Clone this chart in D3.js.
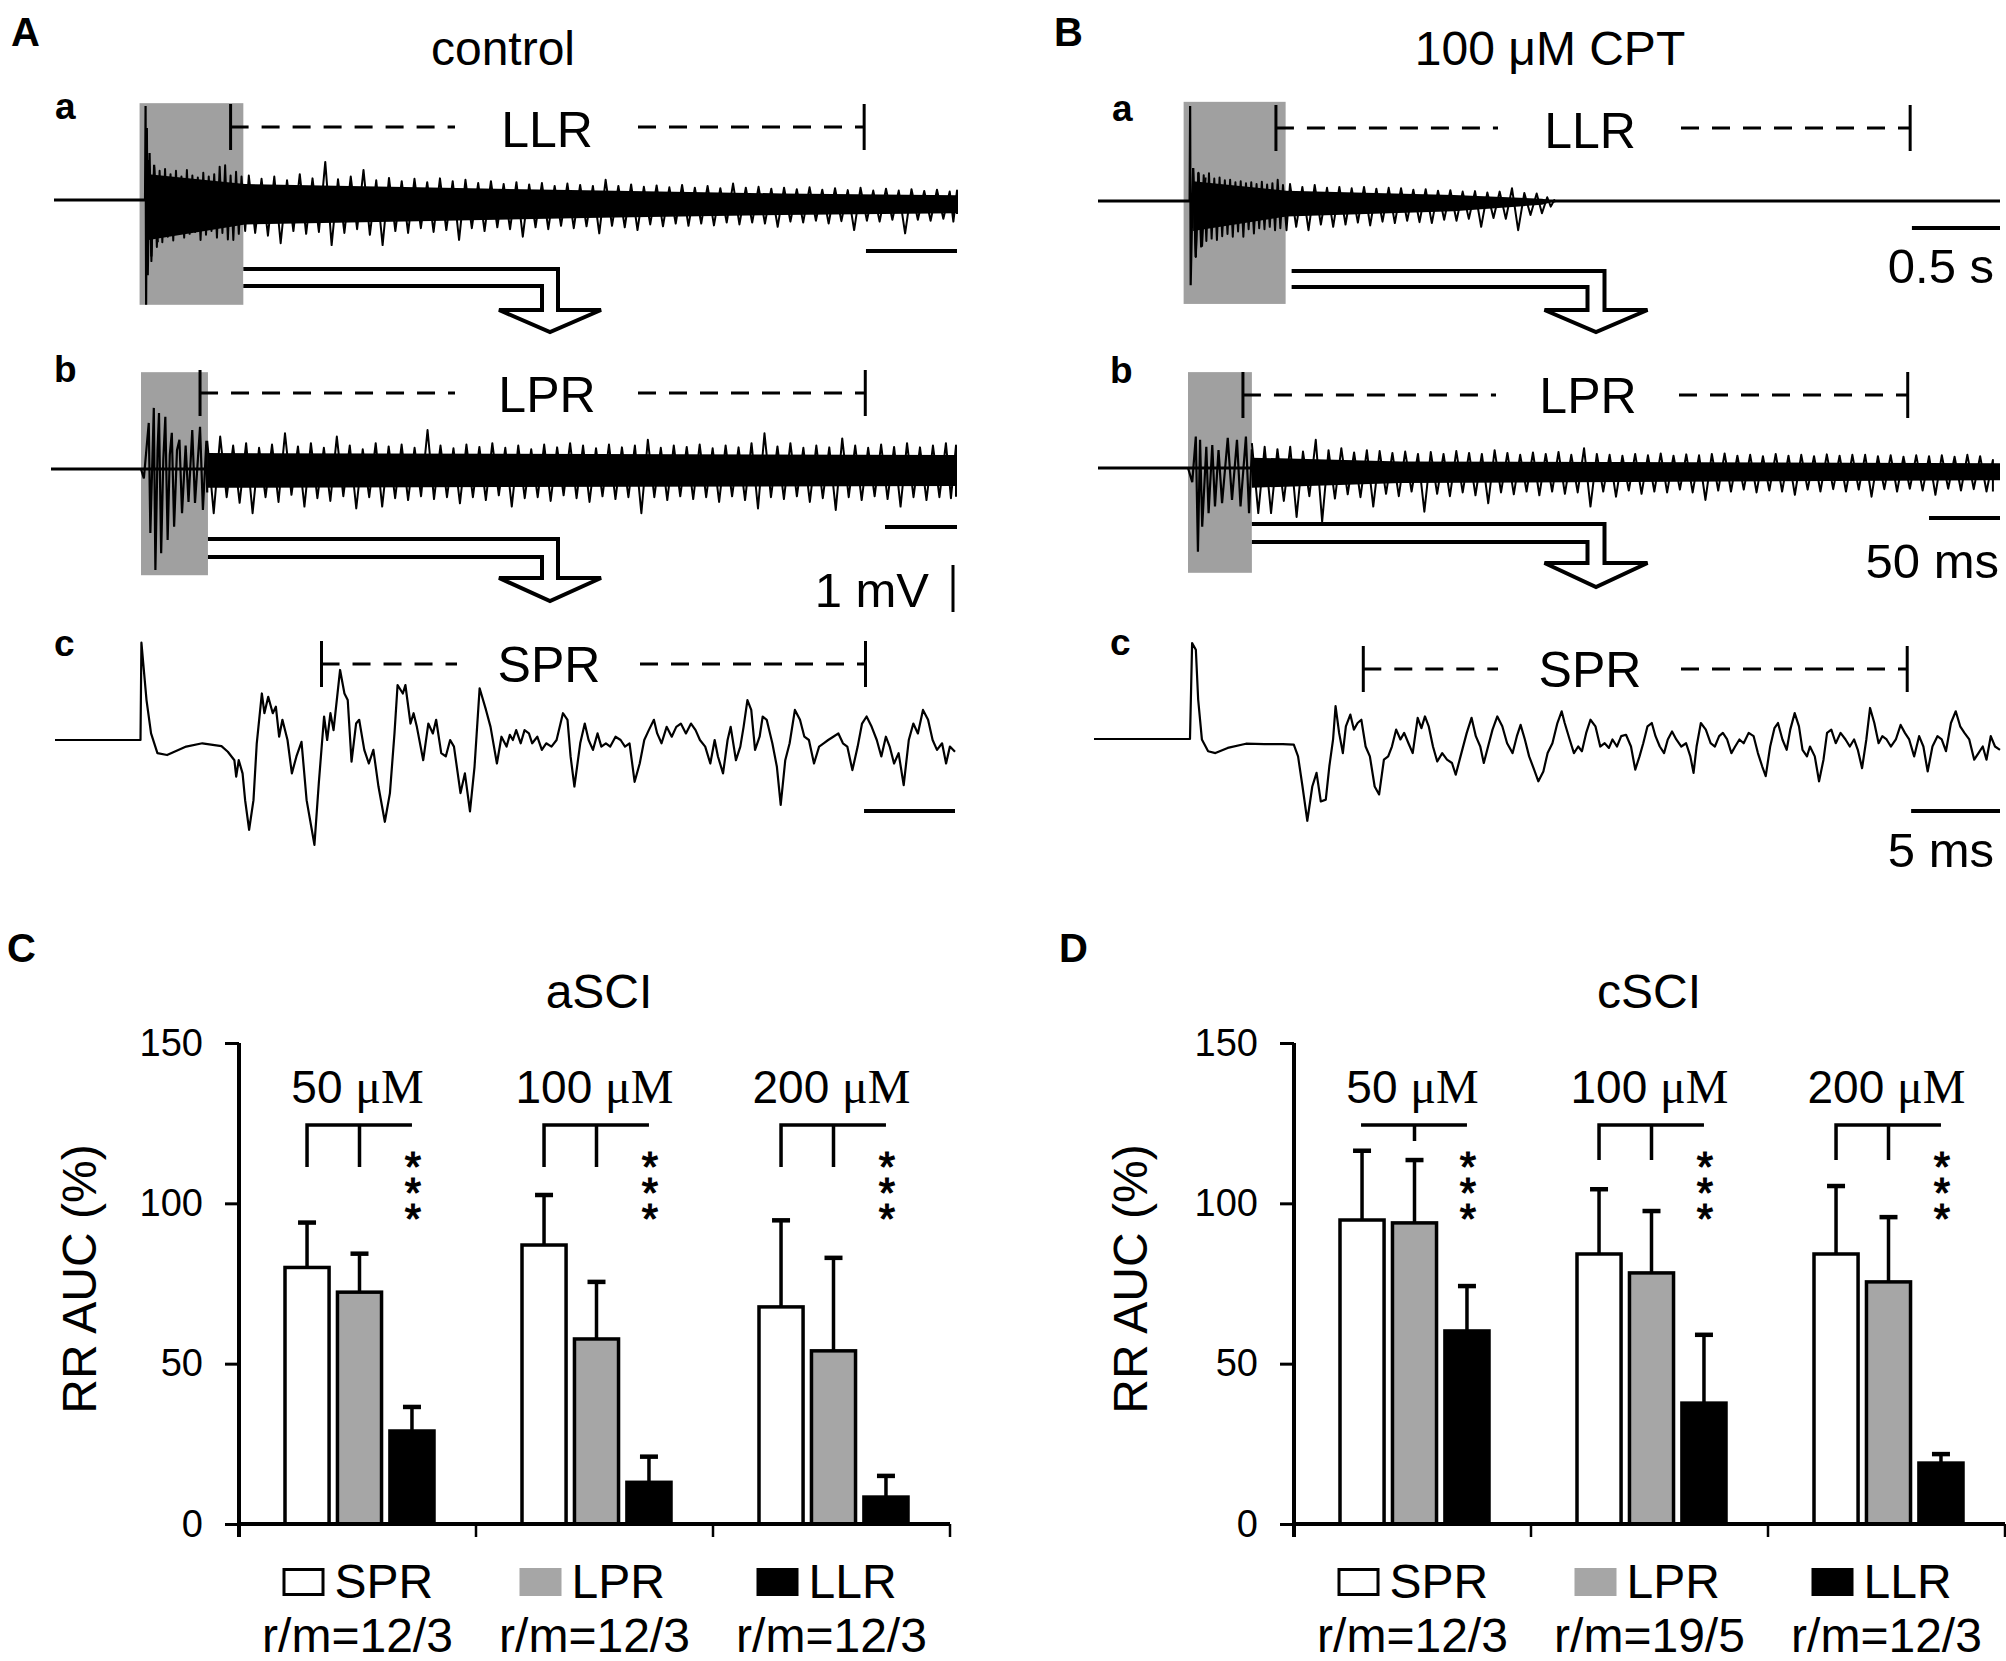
<!DOCTYPE html>
<html><head><meta charset="utf-8">
<script src="https://cdn.jsdelivr.net/npm/d3@7"></script>
<style>
html,body{margin:0;padding:0;background:#fff;}
svg{display:block;}
text{font-family:"Liberation Sans",Arial,sans-serif;fill:#000;}
</style></head><body>
<svg id="fig" width="2006" height="1661"></svg>
<script>
// ================= DATA =================
// bar charts (RR AUC, % of control)
const doses = ["50", "100", "200"];
const doseUnit = "μM";
const responses = ["SPR", "LPR", "LLR"];
const yTicks = [0, 50, 100, 150];
const aSciSPR = [80, 87, 67.7];
const aSciLPR = [72.3, 57.7, 54];
const aSciLLR = [29, 13, 8.4];
const aSciSPRsem = [14, 15.6, 27];
const aSciLPRsem = [12, 17.8, 29];
const aSciLLRsem = [7.5, 8, 6.6];
const aSciRM = ["r/m=12/3", "r/m=12/3", "r/m=12/3"];
const aSciBracket = ["fork", "fork", "fork"];
const cSciSPR = [94.8, 84.2, 84.2];
const cSciLPR = [93.9, 78.3, 75.5];
const cSciLLR = [60.2, 37.7, 19];
const cSciSPRsem = [21.6, 20.2, 21.2];
const cSciLPRsem = [19.6, 19.3, 20.2];
const cSciLLRsem = [14, 21.3, 2.8];
const cSciRM = ["r/m=12/3", "r/m=19/5", "r/m=12/3"];
const cSciBracket = ["tee", "fork", "fork"];
const signif = "***";

// recordings: time (s or ms), voltage (mV); noisy traces given as [t, max, min] per time bin
// control, trace a (LLR, s)
const ctrlA_dom = [-0.5, 4.46];
const ctrlA_win = [-0.03, 0.54, 2.06, -2.23];
const ctrlA_resp = [0.47, 3.95];
const ctrlA_burst = [[0,0],[0.003,2.0],[0.006,-2.23],[0.01,1.53],[0.015,-1.6],[0.025,1.0],[0.035,-1.2],[0.05,0.75],[0.07,-0.9]];
const ctrlA_core = [[0.02,0.55,-0.85],[0.55,0.34,-0.52],[1.5,0.27,-0.45],[2.5,0.2,-0.38],[3.5,0.14,-0.32],[4.46,0.1,-0.28]];
const ctrlA_bins = [[0.02,0.85,-1.3],[0.05,0.7,-1.0],[0.08,0.62,-0.9],[0.11,0.66,-0.78],[0.14,0.55,-0.86],[0.17,0.62,-0.7],[0.2,0.5,-0.8],[0.23,0.64,-0.72],[0.26,0.52,-0.68],[0.29,0.48,-0.85],[0.32,0.58,-0.74],[0.35,0.5,-0.66],[0.38,0.55,-0.8],[0.41,0.71,-0.7],[0.44,0.74,-0.84],[0.47,0.52,-0.85],[0.5,0.6,-0.72],[0.53,0.5,-0.66],
  [0.57,0.52,-0.7],[0.64,0.45,-0.76],[0.71,0.5,-0.92],[0.78,0.42,-0.66],[0.85,0.55,-0.72],[0.92,0.46,-0.68],[0.99,0.81,-0.96],[1.06,0.44,-0.7],[1.13,0.5,-0.62],[1.20,0.64,-0.74],[1.27,0.42,-0.96],[1.34,0.47,-0.66],[1.41,0.4,-0.7],[1.48,0.45,-0.6],[1.55,0.38,-0.68],[1.62,0.46,-0.64],[1.69,0.4,-0.85],[1.76,0.43,-0.6],[1.83,0.36,-0.66],[1.90,0.4,-0.58],[1.97,0.34,-0.62],[2.04,0.38,-0.78],[2.11,0.33,-0.58],[2.18,0.36,-0.62],[2.25,0.3,-0.55],[2.32,0.35,-0.6],[2.39,0.32,-0.56],[2.46,0.3,-0.71],[2.53,0.43,-0.55],[2.60,0.3,-0.58],[2.67,0.33,-0.64],[2.74,0.28,-0.52],[2.81,0.31,-0.56],[2.88,0.27,-0.5],[2.95,0.32,-0.55],[3.02,0.26,-0.5],[3.09,0.3,-0.54],[3.16,0.25,-0.48],[3.23,0.35,-0.52],[3.30,0.26,-0.48],[3.37,0.28,-0.5],[3.44,0.24,-0.57],[3.51,0.26,-0.46],[3.58,0.23,-0.48],[3.65,0.27,-0.44],[3.72,0.22,-0.5],[3.79,0.25,-0.45],[3.86,0.21,-0.64],[3.93,0.26,-0.44],[4.00,0.2,-0.46],[4.07,0.24,-0.42],[4.14,0.2,-0.71],[4.21,0.23,-0.42],[4.28,0.19,-0.44],[4.35,0.22,-0.4],[4.42,0.18,-0.46],[4.46,0.2,-0.3]];
// control, trace b (LPR, ms)
const ctrlB_dom = [-62.5, 566.7];
const ctrlB_win = [0, 46.5, 2.06, -2.26];
const ctrlB_resp = [41, 503];
const ctrlB_burst = [[0,0],[2,-0.2],[4,0.5],[5.4,0.98],[6.5,-1.36],[8,0.3],[8.9,1.3],[10,-2.15],[11.5,0.4],[12.5,1.19],[14,-1.79],[15.5,0.2],[16.9,1.11],[18.5,-1.51],[20,0.3],[21.4,0.77],[23,-1.23],[25,0.4],[26.7,0.62],[28.5,-0.94],[31,0.5],[33,-0.7],[35.6,0.83],[37.5,-0.72],[41,0.9],[43,-0.87],[45.4,0.6],[46,-0.5]];
const ctrlB_core = [[46,0.34,-0.4],[566.7,0.3,-0.36]];
const ctrlB_bins = [[46,0.6,-0.94],[55,0.69,-0.6],[64,0.5,-0.72],[73,0.55,-0.94],[82,0.45,-0.6],[91,0.52,-0.7],[100,0.76,-0.55],[109,0.48,-0.8],[118,0.55,-0.62],[127,0.45,-0.68],[136,0.69,-0.58],[145,0.5,-0.84],[154,0.42,-0.6],[163,0.55,-0.8],[172,0.48,-0.62],[181,0.52,-0.66],[190,0.45,-0.58],[199,0.83,-0.64],[208,0.5,-0.6],[217,0.44,-0.73],[226,0.52,-0.6],[235,0.47,-0.66],[244,0.55,-0.56],[253,0.45,-0.8],[262,0.5,-0.62],[271,0.42,-0.6],[280,0.52,-0.68],[289,0.46,-0.56],[298,0.55,-0.62],[307,0.5,-0.7],[316,0.44,-0.58],[325,0.52,-0.64],[334,0.46,-0.6],[343,0.5,-0.94],[352,0.62,-0.6],[361,0.45,-0.66],[370,0.5,-0.58],[379,0.47,-0.64],[388,0.52,-0.6],[397,0.44,-0.7],[406,0.5,-0.58],[415,0.46,-0.66],[424,0.55,-0.84],[433,0.76,-0.6],[442,0.48,-0.64],[451,0.55,-0.58],[460,0.45,-0.7],[469,0.5,-0.62],[478,0.46,-0.87],[487,0.65,-0.6],[496,0.5,-0.66],[505,0.45,-0.58],[514,0.52,-0.64],[523,0.47,-0.8],[532,0.55,-0.6],[541,0.46,-0.66],[550,0.5,-0.6],[559,0.55,-0.62],[566,0.5,-0.59]];
// control, trace c (SPR, ms)
const ctrlC_dom = [-4.75, 44.72];
const ctrlC_resp = [9.9, 39.8];
const ctrlC = [[-4.75,0],[-0.05,0],[0,2.07],[0.28,0.85],[0.53,0.14],[0.88,-0.28],[1.41,-0.32],[2.46,-0.14],[3.35,-0.07],[4.40,-0.13],[4.75,-0.25],[5.11,-0.43],[5.21,-0.78],[5.35,-0.43],[5.56,-0.71],[5.70,-1.28],[5.92,-1.91],[6.16,-1.28],[6.34,-0.07],[6.62,0.99],[6.76,0.57],[6.97,0.92],[7.22,0.57],[7.39,0.71],[7.57,0.07],[7.75,0.43],[8.03,0],[8.27,-0.71],[8.52,-0.35],[8.80,-0.04],[9.08,-1.28],[9.51,-2.23],[9.75,-0.92],[10.04,0.50],[10.21,0],[10.39,0.57],[10.56,0.21],[10.92,1.49],[11.16,0.99],[11.34,0.85],[11.55,-0.46],[11.80,0.35],[11.97,0.43],[12.25,-0.21],[12.50,-0.50],[12.75,-0.21],[13.03,-0.99],[13.38,-1.74],[13.66,-1.13],[13.91,0.14],[14.08,1.17],[14.37,0.99],[14.51,1.17],[14.79,0.35],[14.96,0.57],[15.14,0.28],[15.49,-0.43],[15.77,0.35],[16.02,0.14],[16.20,0.43],[16.48,-0.28],[16.73,-0.35],[16.97,0],[17.18,-0.14],[17.54,-1.13],[17.78,-0.71],[18.06,-1.52],[18.31,-0.57],[18.59,1.10],[18.94,0.64],[19.19,0.28],[19.54,-0.50],[19.79,0.07],[20.07,-0.14],[20.25,0.11],[20.42,0],[20.60,0.21],[20.85,-0.07],[21.06,0.21],[21.30,0.14],[21.48,-0.07],[21.76,0.07],[22.01,-0.21],[22.25,-0.07],[22.54,-0.14],[22.82,0],[23.17,0.57],[23.42,0.43],[23.59,-0.35],[23.80,-0.99],[24.12,-0.07],[24.37,0.35],[24.58,0],[24.82,-0.21],[25.07,0.14],[25.28,-0.14],[25.53,-0.07],[25.77,-0.14],[26.06,0.07],[26.34,0],[26.58,-0.14],[26.83,-0.07],[27.11,-0.89],[27.39,-0.50],[27.64,0],[27.89,0.21],[28.17,0.43],[28.35,0.14],[28.59,-0.07],[28.87,0.28],[29.15,0.07],[29.40,0.28],[29.65,0.35],[29.93,0.14],[30.21,0.35],[30.46,0.21],[30.70,0],[30.99,-0.14],[31.27,-0.50],[31.51,0],[31.69,-0.35],[31.97,-0.71],[32.22,0],[32.39,0.28],[32.68,-0.43],[32.92,-0.14],[33.10,0.28],[33.31,0.85],[33.52,0.64],[33.73,-0.21],[33.98,0.07],[34.15,0.50],[34.37,0.43],[34.68,-0.07],[34.93,-0.57],[35.14,-1.38],[35.39,-0.43],[35.63,-0.07],[35.92,0.64],[36.20,0.43],[36.44,0.07],[36.69,0],[36.97,-0.50],[37.25,-0.14],[37.50,-0.07],[37.75,0],[38.03,0.07],[38.31,0.14],[38.56,-0.07],[38.80,-0.14],[39.08,-0.64],[39.37,-0.14],[39.61,0.35],[39.86,0.50],[40.14,0.28],[40.42,0],[40.67,-0.35],[40.92,0.07],[41.13,-0.14],[41.37,-0.50],[41.62,-0.28],[41.90,-0.96],[42.18,0],[42.43,0.35],[42.68,0.14],[42.96,0.64],[43.24,0.43],[43.49,0],[43.73,-0.21],[44.01,-0.07],[44.23,-0.50],[44.44,-0.14],[44.72,-0.25]];
// CPT, trace a (LLR, s)
const cptA_dom = [-0.52, 4.6];
const cptA_win = [-0.034, 0.545, 2.11, -2.19];
const cptA_resp = [0.49, 4.09];
const cptA_burst = [[0,0],[0.003,2.02],[0.006,-1.79],[0.02,0.7],[0.035,-1.19],[0.05,0.6],[0.07,-0.97],[0.09,0.5]];
const cptA_core = [[0.02,0.42,-0.64],[0.55,0.22,-0.33],[1.5,0.13,-0.22],[2.0,0.05,-0.08],[2.08,0,0]];
const cptA_bins = [[0.02,0.7,-1.19],[0.05,0.6,-0.97],[0.08,0.55,-0.85],[0.11,0.59,-0.8],[0.14,0.48,-0.83],[0.17,0.5,-0.75],[0.2,0.44,-0.7],[0.23,0.45,-0.76],[0.26,0.4,-0.65],[0.29,0.42,-0.76],[0.32,0.38,-0.6],[0.35,0.4,-0.69],[0.38,0.36,-0.58],[0.41,0.41,-0.6],[0.44,0.35,-0.55],[0.47,0.38,-0.62],[0.5,0.45,-0.58],[0.53,0.34,-0.62],
  [0.57,0.36,-0.55],[0.64,0.3,-0.62],[0.71,0.34,-0.5],[0.78,0.28,-0.55],[0.85,0.3,-0.5],[0.92,0.27,-0.46],[0.99,0.3,-0.52],[1.06,0.26,-0.44],[1.13,0.28,-0.47],[1.20,0.27,-0.42],[1.27,0.24,-0.45],[1.34,0.25,-0.47],[1.41,0.22,-0.4],[1.48,0.23,-0.42],[1.55,0.2,-0.38],[1.62,0.21,-0.55],[1.69,0.18,-0.36],[1.76,0.2,-0.38],[1.83,0.27,-0.62],[1.90,0.17,-0.3],[1.97,0.16,-0.26],[2.03,0.08,-0.12],[2.07,0.02,-0.03]];
// CPT, trace b (LPR, ms)
const cptB_dom = [-63.4, 572];
const cptB_win = [0, 45, 2.04, -2.23];
const cptB_resp = [38.7, 507];
const cptB_burst = [[0,0],[3,-0.3],[5.5,0.67],[7,-1.78],[8.5,0.6],[10,-1.25],[12.9,0.45],[14.5,-0.96],[17.1,0.49],[19,-0.82],[21.5,0.38],[24,-0.75],[28,0.64],[31,-0.68],[34.5,0.6],[37,-0.82],[40.8,0.67],[43,-0.96],[45,0.4]];
const cptB_core = [[45,0.22,-0.42],[150,0.14,-0.32],[572,0.1,-0.26]];
const cptB_bins = [[45,0.53,-0.96],[54,0.45,-0.96],[63,0.4,-0.7],[72,0.45,-1.04],[81,0.35,-0.6],[90,0.6,-1.14],[99,0.38,-0.65],[108,0.42,-0.56],[117,0.33,-0.62],[126,0.38,-0.82],[135,0.36,-0.55],[144,0.32,-0.6],[153,0.35,-0.5],[162,0.3,-0.93],[171,0.34,-0.55],[180,0.3,-0.6],[189,0.36,-0.52],[198,0.32,-0.58],[207,0.3,-0.75],[216,0.38,-0.52],[225,0.32,-0.56],[234,0.28,-0.5],[243,0.33,-0.58],[252,0.3,-0.5],[261,0.34,-0.55],[270,0.28,-0.52],[279,0.42,-0.82],[288,0.3,-0.5],[297,0.28,-0.61],[306,0.26,-0.48],[315,0.3,-0.55],[324,0.27,-0.5],[333,0.31,-0.52],[342,0.26,-0.46],[351,0.29,-0.52],[360,0.27,-0.68],[369,0.3,-0.48],[378,0.31,-0.5],[387,0.26,-0.46],[396,0.28,-0.52],[405,0.25,-0.48],[414,0.3,-0.5],[423,0.26,-0.57],[432,0.28,-0.46],[441,0.25,-0.5],[450,0.29,-0.45],[459,0.26,-0.5],[468,0.28,-0.46],[477,0.28,-0.61],[486,0.25,-0.45],[495,0.27,-0.5],[504,0.24,-0.44],[513,0.27,-0.48],[522,0.25,-0.57],[531,0.27,-0.44],[540,0.24,-0.48],[549,0.28,-0.45],[558,0.25,-0.5],[567,0.17,-0.5]];
// CPT, trace c (SPR, ms)
const cptC_dom = [-5.45, 45.52];
const cptC_resp = [9.7, 40.3];
const cptC = [[-5.45,0],[-0.05,0],[0.07,2.04],[0.28,1.90],[0.41,0.84],[0.62,-0.01],[0.97,-0.26],[1.38,-0.30],[2.07,-0.19],[3.10,-0.10],[4.14,-0.11],[5.17,-0.11],[5.79,-0.12],[6.03,-0.37],[6.28,-1.01],[6.55,-1.74],[6.83,-1.01],[7.07,-0.72],[7.31,-1.33],[7.59,-1.29],[7.79,-0.58],[8.00,-0.01],[8.14,0.70],[8.34,0.13],[8.55,-0.30],[8.72,0.27],[8.97,0.52],[9.17,0.20],[9.38,0.34],[9.59,0.41],[9.83,-0.16],[10.07,-0.37],[10.34,-1.01],[10.59,-1.18],[10.86,-0.44],[11.10,-0.37],[11.31,-0.16],[11.55,0.20],[11.79,-0.01],[12.00,0.13],[12.24,-0.09],[12.48,-0.30],[12.76,0.45],[12.97,0.23],[13.17,0.48],[13.38,0.27],[13.62,-0.16],[13.86,-0.48],[14.14,-0.30],[14.41,-0.44],[14.69,-0.51],[14.90,-0.76],[15.17,-0.37],[15.52,0.13],[15.79,0.45],[16.03,0.06],[16.28,-0.16],[16.48,-0.51],[16.72,-0.16],[16.97,0.20],[17.24,0.48],[17.52,0.27],[17.79,-0.09],[18.10,-0.30],[18.34,0.06],[18.55,0.30],[18.79,-0.01],[19.03,-0.37],[19.31,-0.65],[19.55,-0.90],[19.83,-0.69],[20.07,-0.30],[20.34,-0.09],[20.62,0.34],[20.86,0.59],[21.03,0.34],[21.31,-0.01],[21.55,-0.30],[21.79,-0.16],[22.00,-0.26],[22.24,0.13],[22.48,0.41],[22.76,0.27],[23.03,-0.16],[23.28,-0.09],[23.52,-0.19],[23.72,-0.01],[23.97,-0.16],[24.21,0.06],[24.48,0.09],[24.76,-0.16],[25.00,-0.65],[25.24,-0.37],[25.45,-0.09],[25.69,0.27],[25.93,0.34],[26.14,0.06],[26.38,-0.16],[26.62,-0.30],[26.83,-0.01],[27.07,0.16],[27.31,-0.01],[27.59,-0.16],[27.86,-0.09],[28.10,-0.37],[28.28,-0.72],[28.45,-0.16],[28.69,0.34],[28.97,0.20],[29.24,-0.09],[29.48,-0.16],[29.72,0.06],[29.93,0.13],[30.17,-0.01],[30.41,-0.30],[30.62,-0.16],[30.86,-0.01],[31.10,-0.09],[31.38,0.13],[31.66,0.06],[31.90,-0.30],[32.14,-0.58],[32.34,-0.79],[32.59,-0.16],[32.83,0.23],[33.03,0.34],[33.28,-0.01],[33.52,-0.23],[33.72,0.20],[33.97,0.55],[34.21,0.27],[34.41,-0.23],[34.66,-0.37],[34.83,-0.16],[35.10,-0.37],[35.34,-0.90],[35.59,-0.44],[35.79,0.13],[36.03,0.20],[36.28,-0.09],[36.55,0.13],[36.83,-0.01],[37.07,-0.16],[37.31,-0.01],[37.52,-0.23],[37.76,-0.62],[38.00,-0.01],[38.21,0.66],[38.45,0.34],[38.69,-0.09],[38.90,0.06],[39.14,-0.01],[39.38,-0.16],[39.66,-0.01],[39.93,0.30],[40.17,0.13],[40.41,-0.01],[40.69,-0.37],[40.97,0.06],[41.21,-0.16],[41.45,-0.69],[41.72,-0.16],[42.00,0.06],[42.24,-0.01],[42.48,-0.26],[42.76,0.34],[43.03,0.59],[43.28,0.27],[43.52,0.13],[43.79,-0.01],[44.07,-0.44],[44.31,-0.30],[44.55,-0.16],[44.76,-0.44],[45.00,0.06],[45.24,-0.16],[45.52,-0.23]];
// scale bars
const scaleA = [0.5, "0.5 s"];
const scaleB = [50, "50 ms"];
const scaleC = [5, "5 ms"];
const scaleV = [1, "1 mV"];

// ================= DRAWING =================
const svg = d3.select("#fig");
const GRAY_BOX = "#a0a0a0";
const GRAY_BAR = "#a6a6a6";
const MV = 47; // px per mV

function mk(dom, xr, y0) {
  return {
    x: d3.scaleLinear().domain(dom).range(xr),
    y: d3.scaleLinear().domain([0, 1]).range([y0, y0 - MV])
  };
}

function label(txt, x, y, size, opts = {}) {
  const t = svg.append("text").attr("x", x).attr("y", y).attr("font-size", size)
    .attr("text-anchor", opts.anchor || "start").text(txt);
  if (opts.bold) t.attr("font-weight", "bold");
  return t;
}

function bracket(s, resp, yLine, half, name, labelX, labelBase) {
  const x1 = s.x(resp[0]), x2 = s.x(resp[1]);
  const g = svg.append("g").attr("stroke", "#000").attr("stroke-width", 3);
  g.append("line").attr("x1", x1).attr("x2", x1).attr("y1", yLine - half).attr("y2", yLine + half);
  g.append("line").attr("x1", x2).attr("x2", x2).attr("y1", yLine - half).attr("y2", yLine + half);
  g.append("line").attr("x1", x1).attr("x2", labelX - 92).attr("y1", yLine).attr("y2", yLine).attr("stroke-dasharray", "18,13");
  g.append("line").attr("x1", labelX + 91).attr("x2", x2).attr("y1", yLine).attr("y2", yLine).attr("stroke-dasharray", "18,13");
  label(name, labelX, labelBase, 50, { anchor: "middle" });
}

function noisy(s, dom, win, burst, core, bins) {
  svg.append("rect").attr("x", s.x(win[0])).attr("width", s.x(win[1]) - s.x(win[0]))
    .attr("y", s.y(win[2])).attr("height", s.y(win[3]) - s.y(win[2])).attr("fill", GRAY_BOX);
  svg.append("line").attr("x1", s.x(dom[0])).attr("x2", s.x(dom[1]))
    .attr("y1", s.y(0)).attr("y2", s.y(0)).attr("stroke", "#000").attr("stroke-width", 3);
  svg.append("path").datum(core)
    .attr("d", d3.area().x(d => s.x(d[0])).y0(d => s.y(d[2])).y1(d => s.y(d[1])))
    .attr("fill", "#000");
  const pts = [];
  bins.forEach((b, i) => {
    const nx = bins[i + 1];
    pts.push([b[0], b[1]]);
    pts.push([nx ? (b[0] + nx[0]) / 2 : b[0], b[2]]);
  });
  svg.append("path").datum(pts)
    .attr("d", d3.line().x(d => s.x(d[0])).y(d => s.y(d[1])))
    .attr("fill", "none").attr("stroke", "#000").attr("stroke-width", 2).attr("stroke-linejoin", "round");
  svg.append("path").datum(burst)
    .attr("d", d3.line().x(d => s.x(d[0])).y(d => s.y(d[1])))
    .attr("fill", "none").attr("stroke", "#000").attr("stroke-width", 2.2);
}

function smooth(s, data) {
  svg.append("path").datum(data)
    .attr("d", d3.line().x(d => s.x(d[0])).y(d => s.y(d[1])))
    .attr("fill", "none").attr("stroke", "#000").attr("stroke-width", 2.2)
    .attr("stroke-linejoin", "round");
}

function arrow(xStart, yOuter, yInner, xc, yHead, yTip, sw, hw) {
  const p = `M${xStart},${yOuter}H${xc + sw}V${yHead}H${xc + hw}L${xc},${yTip}L${xc - hw},${yHead}H${xc - sw}V${yInner}H${xStart}`;
  svg.append("path").attr("d", p).attr("fill", "#fff").attr("stroke", "#000")
    .attr("stroke-width", 4).attr("stroke-linejoin", "miter");
}

function scaleBar(s, len, y, txt, txtX, txtY) {
  const t1 = s.x.domain()[1];
  svg.append("line").attr("x1", s.x(t1 - len)).attr("x2", s.x(t1)).attr("y1", y).attr("y2", y)
    .attr("stroke", "#000").attr("stroke-width", 4);
  if (txt) label(txt, txtX, txtY, 49, { anchor: "end" });
}

// ---- Panel A (control) ----
label("A", 11, 46, 40, { bold: true });
label("control", 503, 65, 48, { anchor: "middle" });
const sAa = mk(ctrlA_dom, [54, 957], 200);
const sAb = mk(ctrlB_dom, [51, 957], 469);
const sAc = mk(ctrlC_dom, [55, 955], 740);
label("a", 55, 119, 37, { bold: true });
noisy(sAa, ctrlA_dom, ctrlA_win, ctrlA_burst, ctrlA_core, ctrlA_bins);
bracket(sAa, ctrlA_resp, 127, 23, "LLR", 547, 147);
scaleBar(sAa, scaleA[0], 251, null);
arrow(sAa.x(ctrlA_win[1]), 269, 286, 550, 310, 332, 8, 51);

label("b", 54, 382, 37, { bold: true });
noisy(sAb, ctrlB_dom, ctrlB_win, ctrlB_burst, ctrlB_core, ctrlB_bins);
bracket(sAb, ctrlB_resp, 393, 23, "LPR", 547, 412);
scaleBar(sAb, scaleB[0], 527, null);
arrow(sAb.x(ctrlB_win[1]), 539, 557, 550, 578, 601, 8, 51);
label(scaleV[1], 929, 607, 49, { anchor: "end" });
svg.append("line").attr("x1", 953).attr("x2", 953).attr("y1", sAb.y(0) + 143).attr("y2", sAb.y(scaleV[0]) + 143)
  .attr("stroke", "#000").attr("stroke-width", 3);

label("c", 54, 656, 37, { bold: true });
bracket(sAc, ctrlC_resp, 664, 23, "SPR", 549, 682);
smooth(sAc, ctrlC);
scaleBar(sAc, scaleC[0], 811, null);

// ---- Panel B (100 uM CPT) ----
label("B", 1054, 46, 40, { bold: true });
label("100 μM CPT", 1550, 65, 48, { anchor: "middle" });
const sBa = mk(cptA_dom, [1098, 2000], 201);
const sBb = mk(cptB_dom, [1098, 2000], 468);
const sBc = mk(cptC_dom, [1094, 2000], 739);
label("a", 1112, 121, 37, { bold: true });
noisy(sBa, cptA_dom, cptA_win, cptA_burst, cptA_core, cptA_bins);
bracket(sBa, cptA_resp, 128, 23, "LLR", 1590, 148);
scaleBar(sBa, scaleA[0], 228, scaleA[1], 1994, 283);
arrow(sBa.x(cptA_win[1]) + 6, 271, 287, 1596, 310, 332, 8.5, 51.5);

label("b", 1110, 383, 37, { bold: true });
noisy(sBb, cptB_dom, cptB_win, cptB_burst, cptB_core, cptB_bins);
bracket(sBb, cptB_resp, 395, 23, "LPR", 1588, 413);
scaleBar(sBb, scaleB[0], 518, scaleB[1], 1999, 578);
arrow(sBb.x(cptB_win[1]), 524, 542, 1596, 563, 587, 8.5, 51.5);

label("c", 1110, 655, 37, { bold: true });
bracket(sBc, cptC_resp, 669, 23, "SPR", 1590, 687);
smooth(sBc, cptC);
scaleBar(sBc, scaleC[0], 811, scaleC[1], 1994, 867);

// ---- Bar charts ----
function barPanel(cfg) {
  const { x0, letter, letterX, title, titleX, spr, lpr, llr, sprE, lprE, llrE, rm, br, ylabX, dropY } = cfg;
  const y = d3.scaleLinear().domain([0, 150]).range([1524, 1043]);
  const gx = d3.scaleBand().domain(doses).range([x0, x0 + 711]).paddingInner(0).paddingOuter(0);
  const ix = d3.scaleBand().domain(responses).range([46, 195]).paddingInner(0.16).paddingOuter(0);
  label(letter, letterX, 962, 40, { bold: true });
  label(title, titleX, 1008, 48, { anchor: "middle" });
  const yAxis = svg.append("g").attr("transform", `translate(${x0},0)`)
    .call(d3.axisLeft(y).tickValues(yTicks).tickSize(14).tickSizeOuter(0).tickPadding(22));
  yAxis.select(".domain").remove();
  yAxis.selectAll(".tick line").attr("stroke", "#000").attr("stroke-width", 3);
  yAxis.selectAll(".tick text").attr("font-size", 38).attr("font-family", "Liberation Sans, Arial, sans-serif").attr("fill", "#000");
  svg.append("line").attr("x1", x0).attr("x2", x0).attr("y1", y(150)).attr("y2", y(0) + 13)
    .attr("stroke", "#000").attr("stroke-width", 4);
  svg.append("text").attr("transform", `translate(${ylabX},${1279}) rotate(-90)`)
    .attr("text-anchor", "middle").attr("font-size", 48).text("RR AUC (%)");

  const vals = { SPR: spr, LPR: lpr, LLR: llr };
  const errs = { SPR: sprE, LPR: lprE, LLR: llrE };
  const fills = { SPR: "#fff", LPR: GRAY_BAR, LLR: "#000" };
  doses.forEach((d, i) => {
    const gStart = gx(d);
    const cx = r => gStart + ix(r) + ix.bandwidth() / 2;
    responses.forEach(r => {
      const v = vals[r][i], e = errs[r][i];
      const bx = gStart + ix(r);
      svg.append("line").attr("x1", cx(r)).attr("x2", cx(r)).attr("y1", y(v)).attr("y2", y(v + e))
        .attr("stroke", "#000").attr("stroke-width", 3.5);
      svg.append("line").attr("x1", cx(r) - 9).attr("x2", cx(r) + 9).attr("y1", y(v + e)).attr("y2", y(v + e))
        .attr("stroke", "#000").attr("stroke-width", 4.5);
      svg.append("rect").attr("x", bx).attr("width", ix.bandwidth()).attr("y", y(v)).attr("height", y(0) - y(v))
        .attr("fill", fills[r]).attr("stroke", "#000").attr("stroke-width", 3.5);
    });
    const gc = gStart + gx.bandwidth() / 2;
    const t = svg.append("text").attr("x", gc).attr("y", 1103).attr("text-anchor", "middle").attr("font-size", 46);
    t.append("tspan").text(d + " ");
    t.append("tspan").attr("font-family", "Liberation Serif, Times New Roman, serif").attr("font-size", 48).text(doseUnit);
    const bg = svg.append("g").attr("stroke", "#000").attr("stroke-width", 3.5).attr("fill", "none");
    if (br[i] === "fork") {
      bg.append("path").attr("d", `M${cx("SPR")},${dropY}V1125H${cx("LLR")}M${cx("LPR")},1125V${dropY}`);
    } else {
      bg.append("path").attr("d", `M${cx("SPR") - 1},1125H${cx("LLR")}M${(cx("SPR") + cx("LLR")) / 2},1125V1141`);
    }
    // significance stars, stacked vertically in one text
    svg.append("text").attr("x", cx("LLR") + 1).attr("y", 1143)
      .attr("font-size", 42).attr("stroke", "#000").attr("stroke-width", 1.2)
      .style("writing-mode", "vertical-rl").style("text-orientation", "upright")
      .attr("letter-spacing", -21)
      .text(signif);
    const r = responses[i];
    const lx = gc - 75;
    svg.append("rect").attr("x", lx + (r === "SPR" ? 1.5 : 0)).attr("y", 1568 + (r === "SPR" ? 1.5 : 0))
      .attr("width", r === "SPR" ? 39 : 42).attr("height", r === "SPR" ? 25 : 28)
      .attr("fill", fills[r]).attr("stroke", r === "SPR" ? "#000" : "none").attr("stroke-width", 3);
    label(r, lx + 52, 1598, 48);
    label(rm[i], gc, 1652, 48, { anchor: "middle" });
  });
  svg.append("line").attr("x1", x0).attr("x2", x0 + 711).attr("y1", y(0)).attr("y2", y(0))
    .attr("stroke", "#000").attr("stroke-width", 4);
  doses.forEach(d => {
    const xx = gx(d) + gx.bandwidth();
    svg.append("line").attr("x1", xx).attr("x2", xx).attr("y1", y(0)).attr("y2", y(0) + 13)
      .attr("stroke", "#000").attr("stroke-width", 2.5);
  });
}

barPanel({ x0: 239, letter: "C", letterX: 7, title: "aSCI", titleX: 599,
  spr: aSciSPR, lpr: aSciLPR, llr: aSciLLR, sprE: aSciSPRsem, lprE: aSciLPRsem, llrE: aSciLLRsem,
  rm: aSciRM, br: aSciBracket, ylabX: 96, dropY: 1167 });
barPanel({ x0: 1294, letter: "D", letterX: 1059, title: "cSCI", titleX: 1649,
  spr: cSciSPR, lpr: cSciLPR, llr: cSciLLR, sprE: cSciSPRsem, lprE: cSciLPRsem, llrE: cSciLLRsem,
  rm: cSciRM, br: cSciBracket, ylabX: 1147, dropY: 1160 });
</script>
</body></html>
